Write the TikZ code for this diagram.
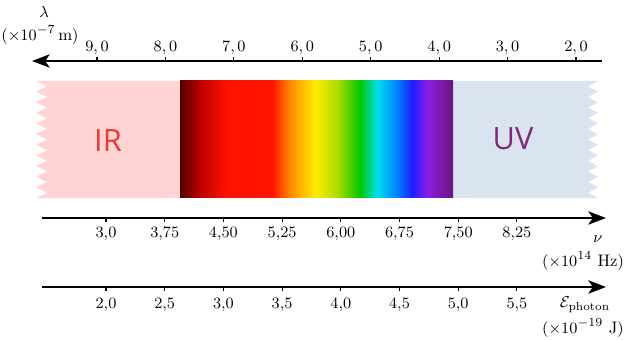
\documentclass[tikz,border=0pt]{standalone}
\usepackage{amsmath}
\usepackage{fontspec}
\setsansfont{Open Sans}
\usetikzlibrary{arrows.meta}

% spectrum colours
\definecolor{sp0}{RGB}{85,0,0}
\definecolor{sp1}{RGB}{190,0,0}
\definecolor{sp2}{RGB}{255,18,0}
\definecolor{sp3}{RGB}{255,20,0}
\definecolor{sp4}{RGB}{255,140,0}
\definecolor{sp5}{RGB}{255,235,0}
\definecolor{sp6}{RGB}{170,220,0}
\definecolor{sp7}{RGB}{0,200,0}
\definecolor{sp8}{RGB}{0,222,240}
\definecolor{sp9}{RGB}{0,140,255}
\definecolor{sp10}{RGB}{30,30,255}
\definecolor{sp11}{RGB}{140,30,230}
\definecolor{sp12}{RGB}{110,20,120}
\definecolor{irfill}{RGB}{255,212,210}
\definecolor{uvfill}{RGB}{218,228,240}
\definecolor{irtext}{RGB}{230,60,60}
\definecolor{uvtext}{RGB}{130,40,120}

\pgfdeclarehorizontalshading{spectrum}{100bp}{color(0bp)=(sp0); color(25bp)=(sp0);
  color(28.7bp)=(sp1); color(33.6bp)=(sp2); color(41.9bp)=(sp3); color(45.2bp)=(sp4);
  color(49.7bp)=(sp5); color(53.9bp)=(sp6); color(58bp)=(sp7); color(61.1bp)=(sp8);
  color(64.4bp)=(sp9); color(67.5bp)=(sp10); color(70.4bp)=(sp11); color(75bp)=(sp12);
  color(100bp)=(sp12)}

\begin{document}
\begin{tikzpicture}[x=0.02cm, y=-0.02cm,
      axis/.style={line width=1.5pt, -{Stealth[length=10pt, width=7.5pt, inset=2.5pt]}},
      tick/.style={line width=0.6pt},
      num/.style={font=\fontsize{9}{10}\selectfont, inner sep=1pt},
      unit/.style={font=\fontsize{9.5}{10}\selectfont, inner sep=0pt},
      band/.style={font=\sffamily\fontsize{17.5}{18}\selectfont, inner sep=0pt}]

    \useasboundingbox (0,0) rectangle (625,340);

    \def\lx{97}    % first wavelength tick
    \def\ls{68.43} % wavelength spacing
    \def\fx{106}   % first frequency / energy tick
    \def\fs{58.7}  % frequency / energy spacing

    % Spectrum band: IR, visible, UV
    \fill[irfill] (180,81) -- (36,81)
      \foreach \k in {1,...,11} {-- ++(11,5.32) -- ++(-11,5.32)} -- (180,198) -- cycle;
    \fill[uvfill] (453,81) -- (598,81)
      \foreach \k in {1,...,11} {-- ++(-10,5.32) -- ++(10,5.32)} -- (453,198) -- cycle;
    \shade[shading=spectrum] (180,81) rectangle (453,198);

    \node[band, text=irtext] (ir) at (108,141) {IR};
    \node[band, text=uvtext] (uv) at (513,139) {UV};

    % Wavelength axis (top)
    \coordinate (lamR) at (602,61);
    \coordinate (lamL) at (32,61);
    \draw[axis] (lamR) -- (lamL);
    \draw[tick] (\lx+0*\ls,61) -- ++(0,-4) node[above, num] (l9) {$9,0$};
    \draw[tick] (\lx+1*\ls,61) -- ++(0,-4) node[above, num] (l8) {$8,0$};
    \draw[tick] (\lx+2*\ls,61) -- ++(0,-4) node[above, num] (l7) {$7,0$};
    \draw[tick] (\lx+3*\ls,61) -- ++(0,-4) node[above, num] (l6) {$6,0$};
    \draw[tick] (\lx+4*\ls,61) -- ++(0,-4) node[above, num] (l5) {$5,0$};
    \draw[tick] (\lx+5*\ls,61) -- ++(0,-4) node[above, num] (l4) {$4,0$};
    \draw[tick] (\lx+6*\ls,61) -- ++(0,-4) node[above, num] (l3) {$3,0$};
    \draw[tick] (\lx+7*\ls,61) -- ++(0,-4) node[above, num] (l2) {$2,0$};
    \node[unit] (lam)  at (44,12) {$\lambda$};
    \node[unit] (lamu) at (40,35) {$(\times10^{-7}\,\mathrm{m})$};

    % Frequency axis
    \coordinate (nuL) at (42,218);
    \coordinate (nuR) at (606,218);
    \draw[axis] (nuL) -- (nuR);
    \draw[tick] (\fx+0*\fs,218) -- ++(0,4) node[below=2pt, num] (f1) {$3{,}0$};
    \draw[tick] (\fx+1*\fs,218) -- ++(0,4) node[below=2pt, num] (f2) {$3{,}75$};
    \draw[tick] (\fx+2*\fs,218) -- ++(0,4) node[below=2pt, num] (f3) {$4{,}50$};
    \draw[tick] (\fx+3*\fs,218) -- ++(0,4) node[below=2pt, num] (f4) {$5{,}25$};
    \draw[tick] (\fx+4*\fs,218) -- ++(0,4) node[below=2pt, num] (f5) {$6{,}00$};
    \draw[tick] (\fx+5*\fs,218) -- ++(0,4) node[below=2pt, num] (f6) {$6{,}75$};
    \draw[tick] (\fx+6*\fs,218) -- ++(0,4) node[below=2pt, num] (f7) {$7{,}50$};
    \draw[tick] (\fx+7*\fs,218) -- ++(0,4) node[below=2pt, num] (f8) {$8{,}25$};
    \node[unit] (nu)  at (598,239) {$\nu$};
    \node[unit] (nuu) at (583,261) {$(\times10^{14}\ \mathrm{Hz})$};

    % Photon energy axis
    \coordinate (enL) at (42,287);
    \coordinate (enR) at (606,287);
    \draw[axis] (enL) -- (enR);
    \draw[tick] (\fx+0*\fs,287) -- ++(0,4) node[below=3pt, num] (e1) {$2{,}0$};
    \draw[tick] (\fx+1*\fs,287) -- ++(0,4) node[below=3pt, num] (e2) {$2{,}5$};
    \draw[tick] (\fx+2*\fs,287) -- ++(0,4) node[below=3pt, num] (e3) {$3{,}0$};
    \draw[tick] (\fx+3*\fs,287) -- ++(0,4) node[below=3pt, num] (e4) {$3{,}5$};
    \draw[tick] (\fx+4*\fs,287) -- ++(0,4) node[below=3pt, num] (e5) {$4{,}0$};
    \draw[tick] (\fx+5*\fs,287) -- ++(0,4) node[below=3pt, num] (e6) {$4{,}5$};
    \draw[tick] (\fx+6*\fs,287) -- ++(0,4) node[below=3pt, num] (e7) {$5{,}0$};
    \draw[tick] (\fx+7*\fs,287) -- ++(0,4) node[below=3pt, num] (e8) {$5{,}5$};
    \node[unit] (en)  at (585,305) {$\mathcal{E}_{\mathrm{photon}}$};
    \node[unit] (enu) at (583,328) {$(\times10^{-19}\ \mathrm{J})$};

\end{tikzpicture}
\end{document}
